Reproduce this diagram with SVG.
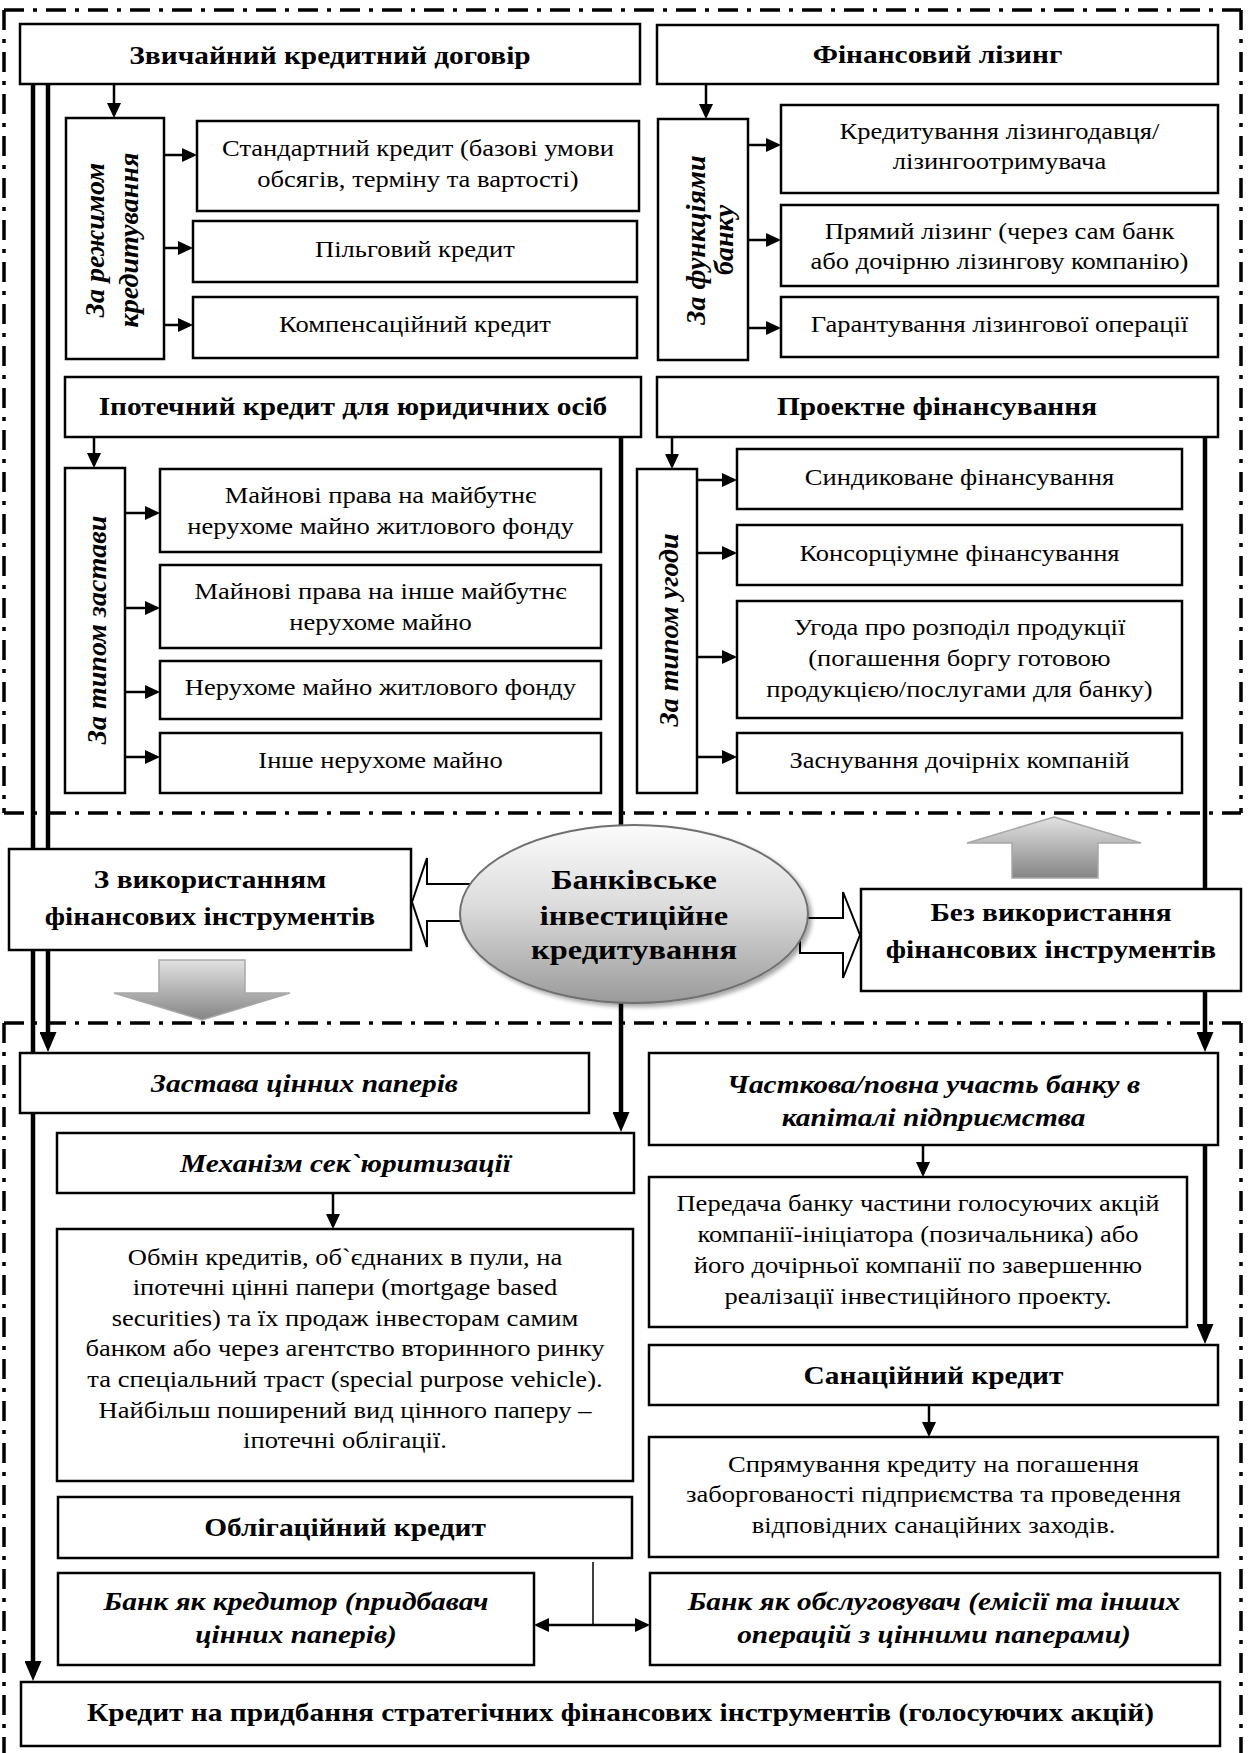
<svg xmlns="http://www.w3.org/2000/svg" width="1253" height="1753" viewBox="0 0 1253 1753">
<defs>
<style>
.box{fill:#fff;stroke:#000;stroke-width:2.5}
.t{font-family:"Liberation Serif","Times New Roman",serif;font-size:23.5px;text-anchor:middle;fill:#000}
.b{font-weight:bold;font-size:26px}
.bi{font-weight:bold;font-style:italic;font-size:26px}
.v{font-weight:bold;font-style:italic;font-size:28px}
.e{font-weight:bold;font-size:27px}
.thick{stroke:#000;stroke-width:4.5;fill:none}
.thin{stroke:#000;stroke-width:2.5;fill:none}
.hair{stroke:#000;stroke-width:1.5;fill:none}
.frame{stroke:#000;stroke-width:3.5;stroke-dasharray:20 9 4 9;fill:none}
.hollow{fill:#fff;stroke:#000;stroke-width:2}
.gray{fill:url(#gg);stroke:#a8a8a8;stroke-width:1.5}
</style>
<marker id="ah" markerUnits="userSpaceOnUse" markerWidth="15" markerHeight="14" refX="12" refY="7" orient="auto-start-reverse"><path d="M0,0 L15,7 L0,14 z" fill="#000"/></marker>
<marker id="ahT" markerUnits="userSpaceOnUse" markerWidth="20" markerHeight="17" refX="14" refY="8.5" orient="auto"><path d="M0,0 L20,8.5 L0,17 z" fill="#000"/></marker>
<linearGradient id="gg" x1="0" y1="0" x2="0" y2="1"><stop offset="0" stop-color="#e2e2e2"/><stop offset="1" stop-color="#858585"/></linearGradient>
<linearGradient id="eg" x1="0" y1="0" x2="0" y2="1"><stop offset="0" stop-color="#fbfbfb"/><stop offset="0.45" stop-color="#dcdcdc"/><stop offset="1" stop-color="#9a9a9a"/></linearGradient>
<filter id="sh" x="-10%" y="-10%" width="130%" height="130%"><feDropShadow dx="3" dy="3" stdDeviation="2" flood-color="#000" flood-opacity="0.35"/></filter>
</defs>
<rect width="1253" height="1753" fill="#fff"/>

<g id="frames">
<path class="frame" d="M4,10 H1241 M4,10 V813 M1241,10 V813 M4,813 H1241"/>
<path class="frame" d="M4,1023 H1241 M4,1023 V1753 M1241,1023 V1753"/>
</g>

<g id="connectors">
<path class="thick" d="M33,84 V1675" marker-end="url(#ahT)"/>
<path class="thick" d="M48,84 V1046" marker-end="url(#ahT)"/>
<path class="thick" d="M621,437 V1126" marker-end="url(#ahT)"/>
<path class="thick" d="M1205,437 V1046" marker-end="url(#ahT)"/>
<path class="thick" d="M1205,1145 V1338" marker-end="url(#ahT)"/>
<path class="thin" d="M114,84 V115" marker-end="url(#ah)"/>
<path class="thin" d="M706,84 V116" marker-end="url(#ah)"/>
<path class="thin" d="M94,437 V465" marker-end="url(#ah)"/>
<path class="thin" d="M672,437 V466" marker-end="url(#ah)"/>
<path class="thin" d="M333,1193 V1226" marker-end="url(#ah)"/>
<path class="thin" d="M923,1145 V1174" marker-end="url(#ah)"/>
<path class="thin" d="M929,1405 V1434" marker-end="url(#ah)"/>
<path class="thin" d="M164,155 H194" marker-end="url(#ah)"/>
<path class="thin" d="M164,248 H190" marker-end="url(#ah)"/>
<path class="thin" d="M164,325 H190" marker-end="url(#ah)"/>
<path class="thin" d="M748,145 H778" marker-end="url(#ah)"/>
<path class="thin" d="M748,240 H778" marker-end="url(#ah)"/>
<path class="thin" d="M748,328 H778" marker-end="url(#ah)"/>
<path class="thin" d="M125,513 H157" marker-end="url(#ah)"/>
<path class="thin" d="M125,608 H157" marker-end="url(#ah)"/>
<path class="thin" d="M125,692 H157" marker-end="url(#ah)"/>
<path class="thin" d="M125,757 H157" marker-end="url(#ah)"/>
<path class="thin" d="M697,480 H734" marker-end="url(#ah)"/>
<path class="thin" d="M697,553 H734" marker-end="url(#ah)"/>
<path class="thin" d="M697,657 H734" marker-end="url(#ah)"/>
<path class="thin" d="M697,757 H734" marker-end="url(#ah)"/>
<path class="hair" d="M593,1562 V1625"/>
<path class="thin" d="M537,1625 H647" marker-start="url(#ah)" marker-end="url(#ah)"/>
<polygon class="hollow" points="412,902 427,858 427,884 470,884 470,921 427,921 427,947"/>
<polygon class="hollow" points="800,918 843,918 843,892 860,935 843,978 843,953 800,953"/>
<polygon class="gray" points="1054,817 1141,843 1098,843 1098,878 1012,878 1012,843 967,843"/>
<polygon class="gray" points="159,960 245,960 245,993 290,993 202,1020 114,993 159,993"/>
</g>

<g id="n-zvych"><rect class="box" x="20" y="24" width="620" height="60"/><text class="t b" transform="scale(1.13 1)" x="292.04" y="64">Звичайний кредитний договір</text></g>
<g id="n-lizing"><rect class="box" x="657" y="25" width="561" height="59"/><text class="t b" transform="scale(1.13 1)" x="829.65" y="63">Фінансовий лізинг</text></g>
<g id="n-rezhym"><rect class="box" x="66" y="118" width="98" height="241"/><text class="t v" transform="rotate(-90 104 240)" x="104" y="240">За режимом</text><text class="t v" transform="rotate(-90 138 240)" x="138" y="240">кредитування</text></g>
<g id="n-standart"><rect class="box" x="197" y="121" width="442" height="90"/><text class="t" transform="scale(1.13 1)" x="369.91" y="156">Стандартний кредит (базові умови</text><text class="t" transform="scale(1.13 1)" x="369.91" y="187">обсягів, терміну та вартості)</text></g>
<g id="n-pilg"><rect class="box" x="193" y="221" width="444" height="61"/><text class="t" transform="scale(1.13 1)" x="367.26" y="257">Пільговий кредит</text></g>
<g id="n-komp"><rect class="box" x="193" y="297" width="444" height="61"/><text class="t" transform="scale(1.13 1)" x="367.26" y="332">Компенсаційний кредит</text></g>
<g id="n-funk"><rect class="box" x="658" y="119" width="90" height="241"/><text class="t v" transform="rotate(-90 705 240)" x="705" y="240">За функціями</text><text class="t v" transform="rotate(-90 733 240)" x="733" y="240">банку</text></g>
<g id="n-kredlz"><rect class="box" x="781" y="105" width="437" height="88"/><text class="t" transform="scale(1.13 1)" x="884.51" y="139">Кредитування лізингодавця/</text><text class="t" transform="scale(1.13 1)" x="884.51" y="169">лізингоотримувача</text></g>
<g id="n-pryam"><rect class="box" x="781" y="205" width="437" height="81"/><text class="t" transform="scale(1.13 1)" x="884.51" y="239">Прямий лізинг (через сам банк</text><text class="t" transform="scale(1.13 1)" x="884.51" y="269">або дочірню лізингову компанію)</text></g>
<g id="n-garant"><rect class="box" x="781" y="297" width="437" height="60"/><text class="t" transform="scale(1.13 1)" x="884.51" y="332">Гарантування лізингової операції</text></g>
<g id="n-ipot"><rect class="box" x="65" y="377" width="576" height="60"/><text class="t b" transform="scale(1.13 1)" x="312.39" y="415">Іпотечний кредит для юридичних осіб</text></g>
<g id="n-zastavy"><rect class="box" x="65" y="468" width="60" height="325"/><text class="t v" transform="rotate(-90 106 630)" x="106" y="630">За типом застави</text></g>
<g id="n-i1"><rect class="box" x="160" y="469" width="441" height="83"/><text class="t" transform="scale(1.13 1)" x="336.73" y="503">Майнові права на майбутнє</text><text class="t" transform="scale(1.13 1)" x="336.73" y="534">нерухоме майно житлового фонду</text></g>
<g id="n-i2"><rect class="box" x="160" y="565" width="441" height="83"/><text class="t" transform="scale(1.13 1)" x="336.73" y="599">Майнові права на інше майбутнє</text><text class="t" transform="scale(1.13 1)" x="336.73" y="630">нерухоме майно</text></g>
<g id="n-i3"><rect class="box" x="160" y="661" width="441" height="58"/><text class="t" transform="scale(1.13 1)" x="336.73" y="695">Нерухоме майно житлового фонду</text></g>
<g id="n-i4"><rect class="box" x="160" y="733" width="441" height="60"/><text class="t" transform="scale(1.13 1)" x="336.73" y="768">Інше нерухоме майно</text></g>
<g id="n-proekt"><rect class="box" x="657" y="377" width="561" height="60"/><text class="t b" transform="scale(1.13 1)" x="829.20" y="415">Проектне фінансування</text></g>
<g id="n-ugody"><rect class="box" x="637" y="469" width="60" height="324"/><text class="t v" transform="rotate(-90 678 630)" x="678" y="630">За типом угоди</text></g>
<g id="n-p1"><rect class="box" x="737" y="449" width="445" height="60"/><text class="t" transform="scale(1.13 1)" x="849.12" y="485">Синдиковане фінансування</text></g>
<g id="n-p2"><rect class="box" x="737" y="525" width="445" height="60"/><text class="t" transform="scale(1.13 1)" x="849.12" y="561">Консорціумне фінансування</text></g>
<g id="n-p3"><rect class="box" x="737" y="601" width="445" height="117"/><text class="t" transform="scale(1.13 1)" x="849.12" y="635">Угода про розподіл продукції</text><text class="t" transform="scale(1.13 1)" x="849.12" y="666">(погашення боргу готовою</text><text class="t" transform="scale(1.13 1)" x="849.12" y="697">продукцією/послугами для банку)</text></g>
<g id="n-p4"><rect class="box" x="737" y="733" width="445" height="60"/><text class="t" transform="scale(1.13 1)" x="849.12" y="768">Заснування дочірніх компаній</text></g>

<g id="n-center"><ellipse cx="634" cy="914" rx="174" ry="89" fill="url(#eg)" stroke="#707070" stroke-width="2" filter="url(#sh)"/><text class="t e" transform="scale(1.2 1)" x="528.33" y="889">Банківське</text><text class="t e" transform="scale(1.2 1)" x="528.33" y="925">інвестиційне</text><text class="t e" transform="scale(1.2 1)" x="528.33" y="959">кредитування</text></g>
<g id="n-z"><rect class="box" x="9" y="849" width="402" height="101"/><text class="t b" transform="scale(1.13 1)" x="185.84" y="888">З використанням</text><text class="t b" transform="scale(1.13 1)" x="185.84" y="925">фінансових інструментів</text></g>
<g id="n-bez"><rect class="box" x="861" y="889" width="380" height="102"/><text class="t b" transform="scale(1.13 1)" x="930.09" y="921">Без використання</text><text class="t b" transform="scale(1.13 1)" x="930.09" y="958">фінансових інструментів</text></g>

<g id="n-zastava"><rect class="box" x="20" y="1053" width="569" height="60"/><text class="t bi" transform="scale(1.13 1)" x="269.47" y="1092">Застава цінних паперів</text></g>
<g id="n-mekh"><rect class="box" x="57" y="1133" width="577" height="60"/><text class="t bi" transform="scale(1.13 1)" x="305.75" y="1172">Механізм сек`юритизації</text></g>
<g id="n-obmin"><rect class="box" x="57" y="1229" width="576" height="252"/>
<text class="t" transform="scale(1.13 1)" x="305.31" y="1265">Обмін кредитів, об`єднаних в пули, на</text>
<text class="t" transform="scale(1.13 1)" x="305.31" y="1295">іпотечні цінні папери (mortgage based</text>
<text class="t" transform="scale(1.13 1)" x="305.31" y="1326">securities) та їх продаж інвесторам самим</text>
<text class="t" transform="scale(1.13 1)" x="305.31" y="1356">банком або через агентство вторинного ринку</text>
<text class="t" transform="scale(1.13 1)" x="305.31" y="1387">та спеціальний траст (special purpose vehicle).</text>
<text class="t" transform="scale(1.13 1)" x="305.31" y="1418">Найбільш поширений вид цінного паперу –</text>
<text class="t" transform="scale(1.13 1)" x="305.31" y="1448">іпотечні облігації.</text></g>
<g id="n-chastk"><rect class="box" x="649" y="1053" width="569" height="92"/><text class="t bi" transform="scale(1.13 1)" x="826.11" y="1093">Часткова/повна участь банку в</text><text class="t bi" transform="scale(1.13 1)" x="826.11" y="1126">капіталі підприємства</text></g>
<g id="n-peredacha"><rect class="box" x="649" y="1177" width="538" height="150"/>
<text class="t" transform="scale(1.13 1)" x="812.39" y="1211">Передача банку частини голосуючих акцій</text>
<text class="t" transform="scale(1.13 1)" x="812.39" y="1242">компанії-ініціатора (позичальника) або</text>
<text class="t" transform="scale(1.13 1)" x="812.39" y="1273">його дочірньої компанії по завершенню</text>
<text class="t" transform="scale(1.13 1)" x="812.39" y="1304">реалізації інвестиційного проекту.</text></g>
<g id="n-sanac"><rect class="box" x="649" y="1345" width="569" height="60"/><text class="t b" transform="scale(1.13 1)" x="826.11" y="1384">Санаційний кредит</text></g>
<g id="n-spryam"><rect class="box" x="649" y="1437" width="569" height="120"/>
<text class="t" transform="scale(1.13 1)" x="826.11" y="1472">Спрямування кредиту на погашення</text>
<text class="t" transform="scale(1.13 1)" x="826.11" y="1502">заборгованості підприємства та проведення</text>
<text class="t" transform="scale(1.13 1)" x="826.11" y="1533">відповідних санаційних заходів.</text></g>
<g id="n-oblig"><rect class="box" x="58" y="1497" width="574" height="61"/><text class="t b" transform="scale(1.13 1)" x="305.31" y="1536">Облігаційний кредит</text></g>
<g id="n-kreditor"><rect class="box" x="58" y="1573" width="476" height="92"/><text class="t bi" transform="scale(1.13 1)" x="261.95" y="1610">Банк як кредитор (придбавач</text><text class="t bi" transform="scale(1.13 1)" x="261.95" y="1643">цінних паперів)</text></g>
<g id="n-obslug"><rect class="box" x="650" y="1573" width="570" height="92"/><text class="t bi" transform="scale(1.13 1)" x="826.55" y="1610">Банк як обслуговувач (емісії та інших</text><text class="t bi" transform="scale(1.13 1)" x="826.55" y="1643">операцій з цінними паперами)</text></g>
<g id="n-strateg"><rect class="box" x="21" y="1682" width="1199" height="64"/><text class="t b" transform="scale(1.13 1)" x="549.12" y="1721">Кредит на придбання стратегічних фінансових інструментів (голосуючих акцій)</text></g>
</svg>
